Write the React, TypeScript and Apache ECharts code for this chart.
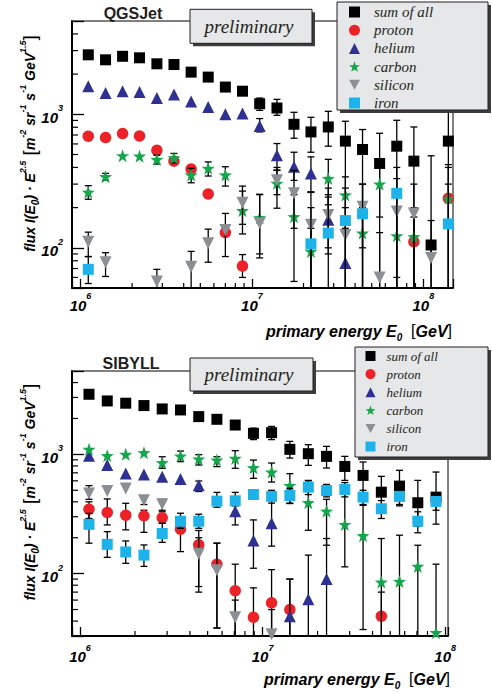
import React, { useEffect, useRef } from 'react';
import * as echarts from 'echarts';

const N = null;

// ---------- top panel: QGSJet ----------
const qgsEnergy = [1.11e6, 1.40e6, 1.76e6, 2.21e6, 2.79e6, 3.51e6, 4.42e6, 5.56e6, 7.0e6, 8.81e6, 1.11e7, 1.40e7, 1.76e7, 2.21e7, 2.79e7, 3.51e7, 4.42e7, 5.56e7, 7.0e7, 8.81e7, 1.11e8, 1.40e8];
const qgsSum = [2790, 2560, 2720, 2650, 2390, 2360, 2070, 1900, 1600, 1490, 1200, 1115, 842, 738, 804, 630, 545, 428, 577, 446, 105, 630];
const qgsSumLo = [N, N, N, N, N, N, N, N, N, N, 1071, 983, 662, 520, 577, 20, 20, 20, 20, 20, 20, 20];
const qgsSumHi = [N, N, N, N, N, N, N, N, N, N, 1324, 1294, 1035, 950, 1053, 887, 769, 721, 902, 804, 489, 9000];
const qgsProton = [685, 670, 718, 689, 538, 446, 389, 253, 130, 73, N, N, N, N, N, N, N, N, N, 111, N, 235];
const qgsProtonLo = [N, N, N, N, N, N, N, N, N, 60, N, N, N, N, N, N, N, N, N, 20, N, 20];
const qgsProtonHi = [N, N, N, N, N, N, N, N, N, 89, N, N, N, N, N, N, N, N, N, 170, N, 420];
const qgsHelium = [1626, 1442, 1486, 1467, 1324, 1410, 1250, 1133, 1000, 1012, 818, 494, 405, 361, 162, 77, N, N, N, N, N, N];
const qgsHeliumLo = [N, N, N, N, N, N, N, N, N, N, 738, 382, 320, 263, 100, 20, N, N, N, N, N, N];
const qgsHeliumHi = [N, N, N, N, N, N, N, N, N, N, 929, 604, 520, 480, 240, 130, N, N, N, N, N, N];
const qgsCarbon = [261, 341, 489, 486, 459, 472, 351, 394, 351, 190, 168, 304, 171, 94, 331, 249, 129, 300, 123, 121, N, 235];
const qgsCarbonLo = [231, 321, N, N, 424, 433, 307, 345, 290, 127, 84, 198, 56, 20, 210, 140, 20, 170, 20, 20, N, 20];
const qgsCarbonHi = [292, 361, N, N, 494, 509, 394, 440, 405, 266, 252, 400, 250, 140, 460, 340, 200, 420, 200, 200, N, 400];
const qgsSilicon = [111, 78, N, N, 56, N, 72, 108, 136, 218, 153, 321, 256, 149, 176, 125, 203, 60, 187, 181, 84, N];
const qgsSiliconLo = [86, 61, N, N, 40, N, 40, 78, 86, 150, 90, 250, 140, 40, 90, 20, 100, 20, 20, 20, 20, N];
const qgsSiliconHi = [131, 92, N, N, 69, N, 94, 138, 181, 290, 250, 380, 380, 260, 280, 200, 300, 130, 330, 300, 160, N];
const qgsIron = [69, N, N, N, N, N, N, N, N, N, N, N, N, 107, 129, 160, 180, N, 256, N, N, 151];
const qgsIronLo = [54, N, N, N, N, N, N, N, N, N, N, N, N, 20, 20, 30, 50, N, 60, N, N, 20];
const qgsIronHi = [86, N, N, N, N, N, N, N, N, N, N, N, N, 200, 250, 280, 300, N, 400, N, N, 300];

// ---------- bottom panel: SIBYLL ----------
const sibEnergy = [1.12e6, 1.41e6, 1.78e6, 2.24e6, 2.82e6, 3.55e6, 4.47e6, 5.62e6, 7.08e6, 8.91e6, 1.12e7, 1.41e7, 1.78e7, 2.24e7, 2.82e7, 3.55e7, 4.47e7, 5.62e7, 7.08e7, 8.91e7];
const sibSum = [3190, 2805, 2685, 2565, 2404, 2357, 2073, 1968, 1762, 1500, 1520, 1102, 1013, 962, 792, 666, 482, 542, 393, 438];
const sibSumLo = [N, N, N, N, N, N, N, N, N, 1330, 1330, 931, 809, 768, 605, 450, 330, 380, 250, 260];
const sibSumHi = [N, N, N, N, N, N, N, N, N, 1660, 1715, 1285, 1205, 1167, 962, 863, 654, 735, 605, 711];
const sibProton = [347, 326, 309, 305, 294, 236, 175, 120, 72, 43, 57, 50, N, N, N, N, 44, N, N, N];
const sibProtonLo = [290, 256, 233, 222, 265, 153, 78, 35, 20, 20, 20, 20, N, N, N, N, 20, N, N, N];
const sibProtonHi = [400, 423, 389, 340, 330, 280, 230, 180, 120, 76, 108, 90, N, N, N, N, 70, N, N, N];
const sibHelium = [975, 813, 692, 679, 650, 621, 552, N, 334, 190, 265, 44, 61, 90, N, N, N, N, N, N];
const sibHeliumLo = [N, N, N, N, N, N, 488, N, 256, 111, 170, 20, 20, 20, N, N, N, N, N, N];
const sibHeliumHi = [N, N, N, N, N, N, 598, N, 376, 282, 412, 90, 143, 197, N, N, N, N, N, N];
const sibCarbon = [1102, 975, 1000, 1033, 851, 968, 914, 896, 925, 773, 710, 548, 393, 334, 258, 208, 85, 86, 115, 32];
const sibCarbonLo = [N, N, N, N, 764, 869, 814, 789, 764, 630, 586, 387, 231, 173, 114, 34, 20, 20, 20, 10];
const sibCarbonHi = [N, N, N, N, 955, 1066, 994, 955, 1074, 896, 846, 689, 605, 420, 500, 374, 197, 210, 173, 120];
const sibSilicon = [470, 492, 518, 413, 382, N, 147, 107, 43, N, 31, N, N, N, N, N, N, N, N, N];
const sibSiliconLo = [420, N, N, 380, 340, N, 70, 35, 20, N, 20, N, N, N, N, N, N, N, N, N];
const sibSiliconHi = [547, N, N, 448, 420, N, 200, 180, 60, N, 50, N, N, N, N, N, N, N, N, N];
const sibIron = [259, 176, 152, 143, 217, 275, 275, 405, 408, 461, 444, 452, 531, 498, 508, 438, 350, 444, 275, 403];
const sibIronLo = [180, 137, 122, 115, 183, 240, 240, 360, 370, N, 390, 390, 460, 440, 440, 380, 290, 370, 220, 340];
const sibIronHi = [320, 225, 188, 174, 265, 321, 315, 480, 480, N, 500, 520, 600, 560, 580, 500, 410, 520, 330, 470];

// axis decoration (minor tick positions)
const xMinorTicks = [2e6, 3e6, 4e6, 5e6, 6e6, 7e6, 8e6, 9e6, 2e7, 3e7, 4e7, 5e7, 6e7, 7e7, 8e7, 9e7];
const qgsYMinorTicks = [60, 70, 80, 90, 200, 300, 400, 500, 600, 700, 800, 900, 2000, 3000, 4000];
const sibYMinorTicks = [40, 50, 60, 70, 80, 90, 200, 300, 400, 500, 600, 700, 800, 900, 2000, 3000, 4000];

const speciesNames = ['sum of all', 'proton', 'helium', 'carbon', 'silicon', 'iron'];

const STAR = 'path://M0,-10L2.35,-3.24L9.51,-3.09L3.8,1.24L5.88,8.09L0,4L-5.88,8.09L-3.8,1.24L-9.51,-3.09L-2.35,-3.24Z';
const DOWN_TRI = 'path://M0,0L10,0L5,9Z';
const COLORS = ['#000000', '#ed2229', '#2e3192', '#14a64b', '#8b8e93', '#1db3ea'];
const SYMBOLS = ['rect', 'circle', 'triangle', STAR, 'triangle', 'rect'];
const LEGEND_ICONS = ['rect', 'circle', 'triangle', STAR, DOWN_TRI, 'rect'];
const ROTATE = [0, 0, 0, 0, 180, 0];
const SIZES = [11, 11.5, 12, 13, 12, 11];

const FONT_SANS = 'Liberation Sans, Arial, Helvetica, sans-serif';
const FONT_SERIF = 'Liberation Serif, Times New Roman, serif';

function errRender(params: any, api: any) {
  const x = api.value(0);
  const lo = api.value(1);
  const hi = api.value(2);
  const a = api.coord([x, hi]);
  const b = api.coord([x, lo]);
  const st = { stroke: '#000', lineWidth: 1.3 };
  const w = 3.5;
  return {
    type: 'group',
    children: [
      { type: 'line', shape: { x1: a[0], y1: a[1], x2: b[0], y2: b[1] }, style: st },
      { type: 'line', shape: { x1: a[0] - w, y1: a[1], x2: a[0] + w, y2: a[1] }, style: st },
      { type: 'line', shape: { x1: b[0] - w, y1: b[1], x2: b[0] + w, y2: b[1] }, style: st },
    ],
  };
}

function minorRender(params: any, api: any) {
  const p = api.coord([api.value(0), api.value(1)]);
  const kind = api.value(2);
  const st = { stroke: '#000', lineWidth: 1.2 };
  if (kind === 0) {
    return { type: 'line', shape: { x1: p[0], y1: p[1], x2: p[0], y2: p[1] - 5 }, style: st };
  }
  return { type: 'line', shape: { x1: p[0], y1: p[1], x2: p[0] + 6, y2: p[1] }, style: st };
}

function panelSeries(panel: number, energy: number[], vals: any[][], los: any[][], his: any[][]) {
  const out: any[] = [];
  vals.forEach((v, k) => {
    const err: any[] = [];
    energy.forEach((e, i) => {
      if (los[k][i] != null && his[k][i] != null) err.push([e, los[k][i], his[k][i]]);
    });
    out.push({
      type: 'custom',
      name: 'err' + panel + '-' + k,
      xAxisIndex: panel,
      yAxisIndex: panel,
      renderItem: errRender,
      data: err,
      clip: true,
      silent: true,
      z: 2 + 2 * k,
      encode: { x: 0, y: [1, 2] },
    });
    const pts: any[] = [];
    energy.forEach((e, i) => {
      if (v[i] != null) pts.push([e, v[i]]);
    });
    out.push({
      type: 'scatter',
      name: speciesNames[k],
      xAxisIndex: panel,
      yAxisIndex: panel,
      symbol: SYMBOLS[k],
      symbolSize: SIZES[k],
      symbolRotate: ROTATE[k],
      itemStyle: { color: COLORS[k], opacity: 1 },
      data: pts,
      clip: true,
      silent: true,
      z: 3 + 2 * k,
    });
  });
  return out;
}

function minorSeries(panel: number, xMin: number, yMin: number, yTicks: number[]) {
  const data: any[] = [];
  xMinorTicks.forEach((v) => data.push([v, yMin, 0]));
  yTicks.forEach((v) => data.push([xMin, v, 1]));
  return {
    type: 'custom',
    name: 'minor' + panel,
    xAxisIndex: panel,
    yAxisIndex: panel,
    renderItem: minorRender,
    data,
    clip: false,
    silent: true,
    z: 1,
    encode: { x: 0, y: 1 },
  };
}

const tickRich = {
  b: { fontFamily: FONT_SANS, fontSize: 15, fontWeight: 'bold', fontStyle: 'italic', color: '#000', padding: [6, 0, 0, 0], verticalAlign: 'bottom' },
  s: { fontFamily: FONT_SANS, fontSize: 9, fontWeight: 'bold', fontStyle: 'italic', color: '#000', verticalAlign: 'top' },
};

function powLabel(v: number) {
  const l = Math.log10(v);
  const r = Math.round(l);
  if (Math.abs(l - r) > 0.01) return '';
  return '{b|10}{s|' + r + '}';
}

function xAxisCfg(grid: number, min: number, max: number, margin: number) {
  return {
    type: 'log',
    logBase: 10,
    gridIndex: grid,
    min,
    max,
    axisLine: { show: true, lineStyle: { color: '#000', width: 2 } },
    axisTick: { show: true, inside: true, length: 9, lineStyle: { color: '#000', width: 1.3 } },
    axisLabel: { show: true, formatter: powLabel, margin, rich: tickRich, showMinLabel: true, showMaxLabel: true },
    splitLine: { show: false },
    minorTick: { show: false },
  };
}

function yAxisCfg(grid: number, min: number, max: number) {
  return {
    type: 'log',
    logBase: 10,
    gridIndex: grid,
    min,
    max,
    axisLine: { show: true, lineStyle: { color: '#000', width: 2 } },
    axisTick: { show: true, inside: true, length: 12, lineStyle: { color: '#000', width: 1.3 } },
    axisLabel: { show: true, formatter: powLabel, margin: 9, rich: tickRich },
    splitLine: { show: false },
    minorTick: { show: false },
  };
}

function titleRich(size: number, brSize: number) {
  return {
    a: { fontFamily: FONT_SANS, fontSize: size, fontWeight: 'bold', fontStyle: 'italic', fill: '#000', padding: [5, 0, 3, 0], verticalAlign: 'bottom' },
    sup: { fontFamily: FONT_SANS, fontSize: 9, fontWeight: 'bold', fontStyle: 'italic', fill: '#000', verticalAlign: 'top' },
    sub: { fontFamily: FONT_SANS, fontSize: 10, fontWeight: 'bold', fontStyle: 'italic', fill: '#000', verticalAlign: 'bottom' },
    br: { fontFamily: FONT_SANS, fontSize: brSize, fontWeight: 'normal', fill: '#000', verticalAlign: 'middle' },
  };
}

const yTitleText = '{a|flux I(E}{sub|0}{a|) · E}{sup|2.5}{br| [}{a|m}{sup|-2}{a| sr}{sup|-1}{a| s}{sup|-1}{a| GeV}{sup|1.5}{br|]}';
const xTitleText = '{a|primary energy E}{sub|0}{br|  [}{a|GeV}{br|]}';

function boxWithShadow(x: number, y: number, w: number, h: number) {
  return [
    { type: 'rect', z: 20, shape: { x: x + 3, y: y + 3, width: w, height: h }, style: { fill: '#3d3d3d' }, silent: true },
    { type: 'rect', z: 21, shape: { x, y, width: w, height: h }, style: { fill: '#e6e7e9', stroke: '#231f20', lineWidth: 1 }, silent: true },
  ];
}

function legendData() {
  return speciesNames.map((n, k) => ({ name: n, icon: LEGEND_ICONS[k] }));
}

export default function App() {
  const ref = useRef<HTMLDivElement>(null);
  useEffect(() => {
    document.body.style.margin = '0';
    if (!ref.current) return;
    const chart = echarts.init(ref.current, null, { renderer: 'svg' });

    const series: any[] = [
      minorSeries(0, 8.92e5, 50, qgsYMinorTicks),
      minorSeries(1, 9.04e5, 30, sibYMinorTicks),
      ...panelSeries(0, qgsEnergy,
        [qgsSum, qgsProton, qgsHelium, qgsCarbon, qgsSilicon, qgsIron],
        [qgsSumLo, qgsProtonLo, qgsHeliumLo, qgsCarbonLo, qgsSiliconLo, qgsIronLo],
        [qgsSumHi, qgsProtonHi, qgsHeliumHi, qgsCarbonHi, qgsSiliconHi, qgsIronHi]),
      ...panelSeries(1, sibEnergy,
        [sibSum, sibProton, sibHelium, sibCarbon, sibSilicon, sibIron],
        [sibSumLo, sibProtonLo, sibHeliumLo, sibCarbonLo, sibSiliconLo, sibIronLo],
        [sibSumHi, sibProtonHi, sibHeliumHi, sibCarbonHi, sibSiliconHi, sibIronHi]),
    ];

    const option: any = {
      animation: false,
      backgroundColor: '#ffffff',
      textStyle: { fontFamily: FONT_SANS },
      grid: [
        { left: 72, top: 21, width: 381, height: 267, show: true, borderColor: '#000', borderWidth: 1, backgroundColor: 'transparent', containLabel: false, outerBoundsMode: 'none' },
        { left: 72, top: 371, width: 376, height: 265, show: true, borderColor: '#000', borderWidth: 1, backgroundColor: 'transparent', containLabel: false, outerBoundsMode: 'none' },
      ],
      xAxis: [xAxisCfg(0, 8.92e5, 1.49e8, 3.5), xAxisCfg(1, 9.04e5, 1.036e8, 7)],
      yAxis: [yAxisCfg(0, 50, 5000), yAxisCfg(1, 30, 5000)],
      legend: [
        {
          show: true, orient: 'vertical', left: 337, top: 4.5, padding: [0, 0, 0, 12],
          itemWidth: 11, itemHeight: 11, itemGap: 3.2, data: legendData(), selectedMode: false, z: 30,
          formatter: (n: string) => '{t|' + n + '}',
          textStyle: { rich: { t: { fontFamily: FONT_SERIF, fontStyle: 'italic', fontSize: 15, color: '#231f20', padding: [0, 0, 0, 9] } } },
        },
        {
          show: true, orient: 'vertical', left: 355, top: 349.5, padding: [0, 0, 0, 10.5],
          itemWidth: 10, itemHeight: 10, itemGap: 5.1, data: legendData(), selectedMode: false, z: 30,
          formatter: (n: string) => '{t|' + n + '}',
          textStyle: { rich: { t: { fontFamily: FONT_SERIF, fontStyle: 'italic', fontSize: 13, color: '#231f20', padding: [0, 0, 0, 6] } } },
        },
      ],
      graphic: [
        ...boxWithShadow(190, 9.3, 122, 34),
        ...boxWithShadow(337, 2, 151, 108),
        ...boxWithShadow(190, 358, 123, 33),
        ...boxWithShadow(355, 347, 133, 110),
        { type: 'text', z: 25, x: 249, y: 26, silent: true, style: { text: 'preliminary', fontFamily: FONT_SERIF, fontStyle: 'italic', fontSize: 19, fill: '#231f20', align: 'center', verticalAlign: 'middle' } },
        { type: 'text', z: 25, x: 249, y: 374, silent: true, style: { text: 'preliminary', fontFamily: FONT_SERIF, fontStyle: 'italic', fontSize: 19, fill: '#231f20', align: 'center', verticalAlign: 'middle' } },
        { type: 'text', z: 25, x: 133, y: 13, silent: true, style: { text: 'QGSJet', fontFamily: FONT_SANS, fontWeight: 'bold', fontSize: 16, fill: '#231f20', align: 'center', verticalAlign: 'middle' } },
        { type: 'text', z: 25, x: 131, y: 363, silent: true, style: { text: 'SIBYLL', fontFamily: FONT_SANS, fontWeight: 'bold', fontSize: 16, fill: '#231f20', align: 'center', verticalAlign: 'middle' } },
        { type: 'text', z: 25, x: 452, y: 330, silent: true, style: { text: xTitleText, rich: titleRich(16, 16), align: 'right', verticalAlign: 'middle' } },
        { type: 'text', z: 25, x: 450, y: 678, silent: true, style: { text: xTitleText, rich: titleRich(16, 16), align: 'right', verticalAlign: 'middle' } },
        { type: 'text', z: 25, x: 29, y: 143.5, rotation: Math.PI / 2, silent: true, style: { text: yTitleText, rich: titleRich(14, 19), align: 'center', verticalAlign: 'middle' } },
        { type: 'text', z: 25, x: 29, y: 492, rotation: Math.PI / 2, silent: true, style: { text: yTitleText, rich: titleRich(14, 19), align: 'center', verticalAlign: 'middle' } },
      ],
      series,
    };
    chart.setOption(option);
    return () => chart.dispose();
  }, []);
  return <div ref={ref} style={{ width: 492, height: 694 }} />;
}
